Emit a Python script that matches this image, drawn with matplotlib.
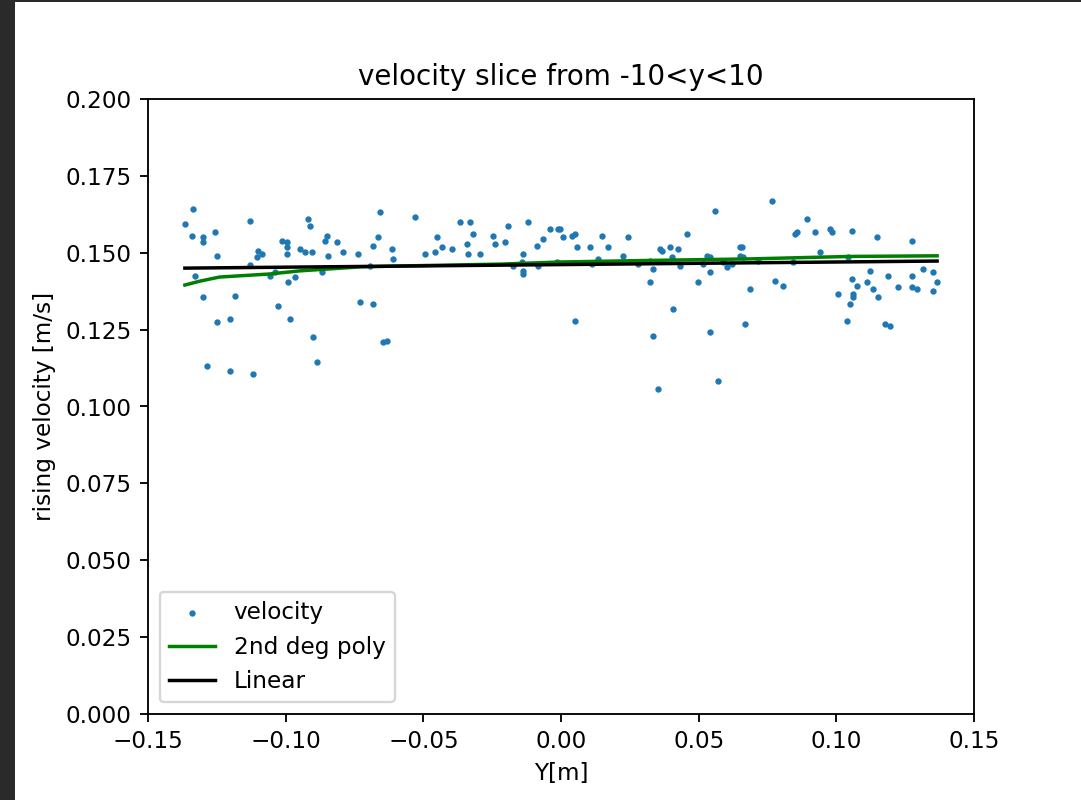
import matplotlib.pyplot as plt
from matplotlib.patches import Rectangle

# scatter points (Y position [m], rising velocity [m/s])
vel_x = [-0.1335, -0.1366, -0.1341, -0.1299, -0.1299, -0.1257, -0.1130, -0.1250, -0.1329, -0.1299,
         -0.1184, -0.1250, -0.1202, -0.1287, -0.1202, -0.1118, -0.1099, -0.1087, -0.1105, -0.1130,
         -0.1039, -0.1057, -0.1014, -0.0996, -0.0996, -0.0996, -0.0948, -0.0930, -0.0905, -0.0918,
         -0.0912, -0.0851, -0.0857, -0.0815, -0.0791, -0.0845, -0.0736, -0.0869, -0.0966, -0.0990,
         -0.1027, -0.0984, -0.0900, -0.0887, -0.0730, -0.0657, -0.0530, -0.0664, -0.0682, -0.0615,
         -0.0609, -0.0694, -0.0682, -0.0645, -0.0633, -0.0494, -0.0458, -0.0451, -0.0433, -0.0397,
         -0.0367, -0.0330, -0.0319, -0.0342, -0.0337, -0.0294, -0.0246, -0.0240, -0.0203, -0.0191,
         -0.0119, -0.0137, -0.0143, -0.0137, -0.0137, -0.0173, -0.0088, -0.0064, -0.0040, -0.0010,
         -0.0082, -0.0016, -0.0004, 0.0008, 0.0039, 0.0051, 0.0057, 0.0105, 0.0148, 0.0172,
         0.0136, 0.0112, 0.0244, 0.0226, 0.0281, 0.0051, 0.0323, 0.0335, 0.0323, 0.0335,
         0.0353, 0.0360, 0.0366, 0.0396, 0.0402, 0.0426, 0.0432, 0.0457, 0.0408, 0.0529,
         0.0541, 0.0517, 0.0541, 0.0499, 0.0559, 0.0541, 0.0571, 0.0590, 0.0602, 0.0620,
         0.0650, 0.0656, 0.0650, 0.0668, 0.0686, 0.0662, 0.0765, 0.0717, 0.0777, 0.0807,
         0.0892, 0.0850, 0.0856, 0.0923, 0.0941, 0.0844, 0.0977, 0.0983, 0.1056, 0.1044,
         0.1007, 0.1056, 0.1074, 0.1062, 0.1062, 0.1050, 0.1038, 0.1110, 0.1122, 0.1147,
         0.1134, 0.1152, 0.1177, 0.1195, 0.1189, 0.1225, 0.1274, 0.1274, 0.1274, 0.1292,
         0.1316, 0.1352, 0.1365, 0.1352]
vel_y = [0.1642, 0.1593, 0.1555, 0.1550, 0.1534, 0.1566, 0.1604, 0.1490, 0.1425, 0.1355,
         0.1360, 0.1274, 0.1285, 0.1133, 0.1116, 0.1106, 0.1507, 0.1496, 0.1485, 0.1460,
         0.1438, 0.1425, 0.1539, 0.1534, 0.1518, 0.1496, 0.1512, 0.1501, 0.1501, 0.1610,
         0.1588, 0.1555, 0.1539, 0.1534, 0.1501, 0.1490, 0.1496, 0.1436, 0.1420, 0.1404,
         0.1328, 0.1285, 0.1225, 0.1144, 0.1339, 0.1632, 0.1615, 0.1550, 0.1523, 0.1512,
         0.1480, 0.1458, 0.1333, 0.1209, 0.1214, 0.1496, 0.1501, 0.1550, 0.1518, 0.1512,
         0.1599, 0.1599, 0.1561, 0.1528, 0.1496, 0.1496, 0.1555, 0.1528, 0.1534, 0.1588,
         0.1599, 0.1496, 0.1469, 0.1442, 0.1431, 0.1458, 0.1523, 0.1545, 0.1577, 0.1577,
         0.1458, 0.1469, 0.1577, 0.1550, 0.1555, 0.1561, 0.1518, 0.1518, 0.1555, 0.1518,
         0.1480, 0.1463, 0.1550, 0.1490, 0.1463, 0.1279, 0.1474, 0.1447, 0.1404, 0.1230,
         0.1057, 0.1512, 0.1507, 0.1518, 0.1485, 0.1512, 0.1458, 0.1561, 0.1317, 0.1490,
         0.1485, 0.1463, 0.1436, 0.1404, 0.1637, 0.1241, 0.1084, 0.1469, 0.1453, 0.1463,
         0.1518, 0.1518, 0.1490, 0.1268, 0.1382, 0.1485, 0.1669, 0.1474, 0.1409, 0.1393,
         0.1610, 0.1561, 0.1566, 0.1566, 0.1501, 0.1469, 0.1577, 0.1566, 0.1572, 0.1485,
         0.1366, 0.1415, 0.1393, 0.1366, 0.1355, 0.1333, 0.1279, 0.1404, 0.1442, 0.1550,
         0.1382, 0.1355, 0.1268, 0.1263, 0.1425, 0.1388, 0.1539, 0.1425, 0.1388, 0.1382,
         0.1447, 0.1436, 0.1404, 0.1377]

# fitted curves
poly_x = [-0.1366, -0.131, -0.124, -0.1057, -0.095, -0.073, -0.0585, -0.022, 0.0, 0.032, 0.0686, 0.105, 0.1366]
poly_y = [0.1395, 0.1408, 0.1421, 0.1431, 0.1441, 0.1454, 0.1457, 0.1463, 0.1470, 0.1475, 0.1480, 0.1488, 0.1490]
lin_x = [-0.1366, 0.1366]
lin_y = [0.1450, 0.1473]


def plot():
  dpi = 166.6
  fig = plt.figure(figsize=(1081 / dpi, 800 / dpi), dpi=dpi, facecolor='#2a2a2a')
  # white figure area inside the dark screenshot frame
  fig.patches.append(Rectangle((15 / 1081, 0), 1 - 15 / 1081, 1 - 2 / 800,
                               transform=fig.transFigure, facecolor='white',
                               edgecolor='none', zorder=-10))
  ax = fig.add_axes([148 / 1081, 1 - 714 / 800, 826 / 1081, 615 / 800])

  ax.scatter(vel_x, vel_y, s=3, label='velocity')
  ax.plot(poly_x, poly_y, color='green', label='2nd deg poly')
  ax.plot(lin_x, lin_y, color='black', label='Linear')

  ax.set_xlim(-0.15, 0.15)
  ax.set_ylim(0, 0.2)
  ax.set_title('velocity slice from -10<y<10')
  ax.set_xlabel('Y[m]')
  ax.set_ylabel('rising velocity [m/s]')
  ax.legend(loc='lower left')

  fig.savefig('out.png', dpi=dpi, facecolor=fig.get_facecolor())
  plt.close()


if __name__ == "__main__":
  plot()
